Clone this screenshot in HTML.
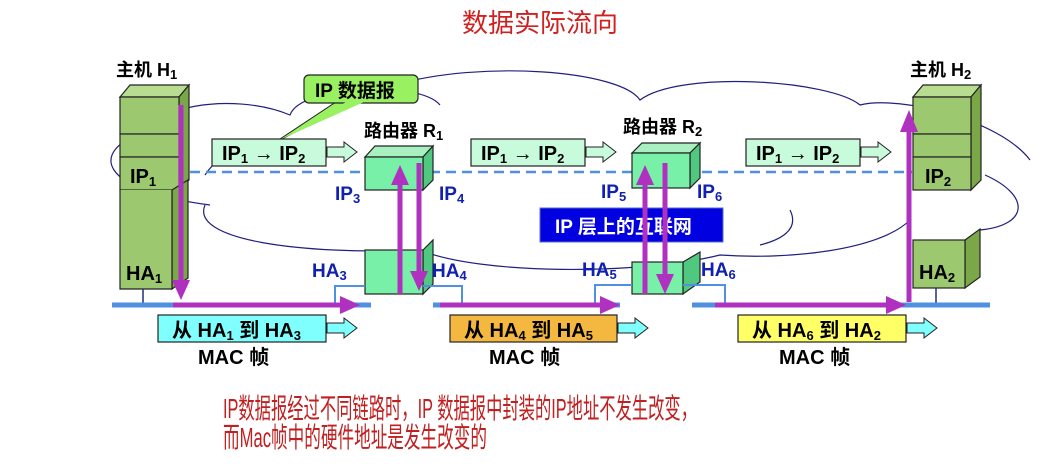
<!DOCTYPE html>
<html><head><meta charset="utf-8"><style>
html,body{margin:0;padding:0;background:#fff;}
svg{display:block;}
text{font-family:"Liberation Sans","Noto Sans CJK SC",sans-serif;}
.b{font-weight:bold;}
</style></head><body>
<svg width="1062" height="464" viewBox="0 0 1062 464" xmlns="http://www.w3.org/2000/svg">
<text x="540" y="32" font-size="26" fill="#d02020" text-anchor="middle">数据实际流向</text>

<g fill="none" stroke="#202080" stroke-width="1.2">
<path d="M160,135 C140,110 230,90 290,115 C300,85 420,80 440,105"/>
<path d="M395,85 C480,60 620,70 640,100 C680,70 830,80 860,105 C900,95 1000,120 1030,160"/>
<path d="M145,132 C90,150 95,190 210,205"/>
<path d="M205,205 C190,240 300,255 420,250 C480,275 640,275 720,255 C790,260 880,250 910,220"/>
<path d="M205,175 C215,160 230,150 240,150"/>
<path d="M790,210 C800,230 780,240 760,245"/>
<path d="M985,175 C1030,195 1030,225 980,230"/>
</g>

<line x1="190" y1="172" x2="912" y2="172" stroke="#5090e0" stroke-width="2.5" stroke-dasharray="10,6"/>

<text x="116" y="76" font-size="18" class="b">主机 H<tspan font-size="13" dy="3">1</tspan></text>
<g stroke="#222" stroke-width="1.2">
<polygon points="120,97 130,85 189,85 179,97" fill="#b8dc90"/>
<polygon points="179,97 189,85 189,180 179,190" fill="#7aa848"/>
<rect x="120" y="97" width="59" height="37" fill="#9cc870"/>
<rect x="120" y="134" width="59" height="23" fill="#9cc870"/>
<rect x="120" y="157" width="59" height="33" fill="#9cc870"/>
<polygon points="172,190 188,180 188,278 172,289" fill="#7aa848"/>
<rect x="120" y="190" width="52" height="99" fill="#9cc870" stroke="none"/>
<polyline points="120,190 120,289 172,289 172,190" fill="none"/>
</g>
<text x="130" y="183" font-size="20" class="b">IP<tspan font-size="13" dy="3">1</tspan></text>
<text x="126" y="280" font-size="20" class="b">HA<tspan font-size="13" dy="3">1</tspan></text>
<line x1="143" y1="289" x2="143" y2="305" stroke="#203070" stroke-width="1.5"/>

<text x="910" y="76" font-size="18" class="b">主机 H<tspan font-size="13" dy="3">2</tspan></text>
<g stroke="#222" stroke-width="1.2">
<polygon points="913,97 923,85 981,85 971,97" fill="#b8dc90"/>
<polygon points="971,97 981,85 981,180 971,190" fill="#7aa848"/>
<rect x="913" y="97" width="58" height="37" fill="#9cc870"/>
<rect x="913" y="134" width="58" height="23" fill="#9cc870"/>
<rect x="913" y="157" width="58" height="33" fill="#9cc870"/>
<polygon points="965,240 980,229 980,277 965,288" fill="#7aa848"/>
<rect x="913" y="240" width="52" height="48" fill="#9cc870"/>
</g>
<text x="925" y="183" font-size="20" class="b">IP<tspan font-size="13" dy="3">2</tspan></text>
<text x="919" y="279" font-size="20" class="b">HA<tspan font-size="13" dy="3">2</tspan></text>
<line x1="936" y1="288" x2="936" y2="305" stroke="#203070" stroke-width="1.5"/>

<text x="364" y="137" font-size="18" class="b">路由器 R<tspan font-size="13" dy="3">1</tspan></text>
<text x="623" y="133" font-size="18" class="b">路由器 R<tspan font-size="13" dy="3">2</tspan></text>
<g stroke="#222" stroke-width="1.2">
<polygon points="365,157 375,146 433,146 423,157" fill="#a8f0c0"/>
<polygon points="423,157 433,146 433,180 423,190" fill="#50c880"/>
<rect x="365" y="157" width="58" height="33" fill="#78f0a8"/>
<polygon points="423,250 433,240 433,284 423,294" fill="#50c880"/>
<rect x="365" y="250" width="58" height="44" fill="#78f0a8"/>
<polygon points="632,153 642,143 700,143 690,153" fill="#a8f0c0"/>
<polygon points="690,153 700,143 700,178 690,188" fill="#50c880"/>
<rect x="632" y="153" width="58" height="35" fill="#78f0a8"/>
<polygon points="683,262 700,252 700,282 683,294" fill="#50c880"/>
<rect x="632" y="262" width="51" height="32" fill="#78f0a8"/>
</g>
<g fill="#1020b0" font-size="19" class="b">
<text x="335" y="200">IP<tspan font-size="13" dy="3">3</tspan></text>
<text x="439" y="200">IP<tspan font-size="13" dy="3">4</tspan></text>
<text x="601" y="198">IP<tspan font-size="13" dy="3">5</tspan></text>
<text x="697" y="198">IP<tspan font-size="13" dy="3">6</tspan></text>
<text x="312" y="277">HA<tspan font-size="13" dy="3">3</tspan></text>
<text x="432" y="277">HA<tspan font-size="13" dy="3">4</tspan></text>
<text x="582" y="276">HA<tspan font-size="13" dy="3">5</tspan></text>
<text x="701" y="276">HA<tspan font-size="13" dy="3">6</tspan></text>
</g>

<g stroke="#5090e0" stroke-width="5">
<line x1="112" y1="305" x2="371" y2="305"/>
<line x1="433" y1="305" x2="620" y2="305"/>
<line x1="692" y1="305" x2="990" y2="305"/>
</g>
<g stroke="#5090e0" stroke-width="2" fill="none">
<polyline points="335,303 335,286 365,286"/>
<polyline points="423,286 462,286 462,303"/>
<polyline points="595,303 595,285 632,285"/>
<polyline points="683,285 725,285 725,303"/>
</g>

<g stroke="#b030c0" stroke-width="5" fill="#b030c0">
<line x1="181" y1="105" x2="181" y2="282"/><polygon points="172,280 190,280 181,300" stroke="none"/>
<line x1="173" y1="305" x2="342" y2="305"/><polygon points="340,296 360,305 340,314" stroke="none"/>
<line x1="400" y1="294" x2="400" y2="183"/><polygon points="391,185 409,185 400,165" stroke="none"/>
<line x1="419" y1="163" x2="419" y2="273"/><polygon points="410,271 428,271 419,291" stroke="none"/>
<line x1="440" y1="305" x2="602" y2="305"/><polygon points="600,296 620,305 600,314" stroke="none"/>
<line x1="715" y1="305" x2="888" y2="305"/><polygon points="886,296 906,305 886,314" stroke="none"/>
<line x1="909" y1="302" x2="909" y2="130"/><polygon points="900,132 918,132 909,110" stroke="none"/>
</g>

<polygon points="345,96 365,96 274,143" fill="#99f060" stroke="#222" stroke-width="1"/>
<rect x="304" y="75" width="114" height="28" rx="5" fill="#99f060" stroke="#222" stroke-width="1.2"/>
<polygon points="346,102 364,102 277,141" fill="#99f060"/>
<text x="315" y="97" font-size="19" class="b">IP 数据报</text>

<g font-size="20" class="b">
<rect x="212" y="139" width="114" height="27" fill="#c8fadc" stroke="#222" stroke-width="1.2"/>
<text x="222" y="160">IP<tspan font-size="13" dy="3">1</tspan><tspan dy="-3"> → IP</tspan><tspan font-size="13" dy="3">2</tspan></text>
<polygon points="327,147 344,147 344,142 357,152 344,162 344,157 327,157" fill="#c8fadc" stroke="#222"/>
<rect x="471" y="139" width="114" height="27" fill="#c8fadc" stroke="#222" stroke-width="1.2"/>
<text x="481" y="160">IP<tspan font-size="13" dy="3">1</tspan><tspan dy="-3"> → IP</tspan><tspan font-size="13" dy="3">2</tspan></text>
<polygon points="586,147 603,147 603,142 616,152 603,162 603,157 586,157" fill="#c8fadc" stroke="#222"/>
<rect x="746" y="139" width="114" height="27" fill="#c8fadc" stroke="#222" stroke-width="1.2"/>
<text x="756" y="160">IP<tspan font-size="13" dy="3">1</tspan><tspan dy="-3"> → IP</tspan><tspan font-size="13" dy="3">2</tspan></text>
<polygon points="861,147 878,147 878,142 891,152 878,162 878,157 861,157" fill="#c8fadc" stroke="#222"/>
</g>

<rect x="540" y="208" width="183" height="34" fill="#0000e0" stroke="#5070c0"/>
<text x="555" y="233" font-size="19" class="b" fill="#fff">IP 层上的互联网</text>
<line x1="645" y1="294" x2="645" y2="183" stroke="#b030c0" stroke-width="5"/><polygon points="636,185 654,185 645,165" fill="#b030c0"/>
<line x1="665" y1="163" x2="665" y2="276" stroke="#b030c0" stroke-width="5"/><polygon points="656,274 674,274 665,294" fill="#b030c0"/>

<g font-size="20" class="b">
<rect x="158" y="315" width="168" height="27" fill="#80ffff" stroke="#222" stroke-width="1.2"/>
<text x="172" y="337">从 HA<tspan font-size="13" dy="3">1</tspan><tspan dy="-3"> 到 HA</tspan><tspan font-size="13" dy="3">3</tspan></text>
<polygon points="327,323 344,323 344,318 357,328 344,338 344,333 327,333" fill="#80ffff" stroke="#222"/>
<text x="198" y="364">MAC 帧</text>
<rect x="450" y="315" width="167" height="27" fill="#f4b840" stroke="#222" stroke-width="1.2"/>
<text x="464" y="337">从 HA<tspan font-size="13" dy="3">4</tspan><tspan dy="-3"> 到 HA</tspan><tspan font-size="13" dy="3">5</tspan></text>
<polygon points="618,323 635,323 635,318 648,328 635,338 635,333 618,333" fill="#80ffff" stroke="#222"/>
<text x="489" y="364">MAC 帧</text>
<rect x="738" y="315" width="168" height="27" fill="#ffff66" stroke="#222" stroke-width="1.2"/>
<text x="752" y="337">从 HA<tspan font-size="13" dy="3">6</tspan><tspan dy="-3"> 到 HA</tspan><tspan font-size="13" dy="3">2</tspan></text>
<polygon points="907,323 924,323 924,318 937,328 924,338 924,333 907,333" fill="#80ffff" stroke="#222"/>
<text x="779" y="364">MAC 帧</text>
</g>

<text x="223" y="418" font-size="28" fill="#c02020" textLength="474" lengthAdjust="spacingAndGlyphs">IP数据报经过不同链路时，IP 数据报中封装的IP地址不发生改变，</text>
<text x="223" y="447" font-size="28" fill="#c02020" textLength="264" lengthAdjust="spacingAndGlyphs">而Mac帧中的硬件地址是发生改变的</text>
</svg>
</body></html>
